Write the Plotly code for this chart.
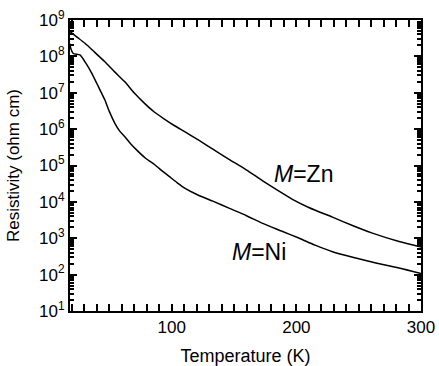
import plotly.graph_objects as go

# Data (Temperature K, log10 resistivity)
T_zn = [18.4, 24, 30.4, 38, 46.4, 54, 62.4, 70, 78.4, 86, 94.4, 102, 110.4, 122, 133, 146, 159.8, 173, 186.4, 198, 210.4, 229, 245, 261, 282.4, 300]
logR_zn = [8.68, 8.53, 8.36, 8.12, 7.85, 7.58, 7.30, 6.99, 6.70, 6.47, 6.27, 6.10, 5.93, 5.69, 5.45, 5.17, 4.88, 4.58, 4.29, 4.05, 3.84, 3.58, 3.35, 3.14, 2.91, 2.76]

T_ni = [18.4, 18.6, 21, 26.4, 31, 35.8, 41, 46.4, 50, 54.4, 58, 62.4, 67, 71.8, 79, 86.4, 93, 99.8, 105, 110.4, 119.8, 133, 146.4, 160, 173, 188, 202.4, 215, 229, 246, 263.8, 282.4, 300]
logR_ni = [8.35, 8.27, 8.08, 8.04, 7.82, 7.54, 7.18, 6.80, 6.48, 6.16, 5.96, 5.79, 5.60, 5.43, 5.20, 5.02, 4.83, 4.65, 4.51, 4.38, 4.21, 4.02, 3.82, 3.62, 3.41, 3.20, 3.00, 2.81, 2.63, 2.47, 2.32, 2.18, 2.03]

R_zn = [10 ** v for v in logR_zn]
R_ni = [10 ** v for v in logR_ni]

labels = ["<i>M</i>=Zn", "<i>M</i>=Ni"]
label_T = [206, 170]
label_logR = [4.77, 2.63]

y_major = [10 ** e for e in range(1, 10)]
y_major_text = ["10<sup>%d</sup>" % e for e in range(1, 10)]
y_minor = [m * 10 ** e for e in range(1, 9) for m in range(2, 10)]

FONT = "Liberation Sans, Arial, sans-serif"

fig = go.Figure()
fig.add_trace(go.Scatter(x=T_zn, y=R_zn, mode="lines", line=dict(color="black", width=1.5, shape="spline", smoothing=0.6), showlegend=False))
fig.add_trace(go.Scatter(x=T_ni, y=R_ni, mode="lines", line=dict(color="black", width=1.5, shape="spline", smoothing=0.6), showlegend=False))
# invisible trace to anchor the minor-tick overlay axis
fig.add_trace(go.Scatter(x=[T_zn[0]], y=[R_zn[0]], yaxis="y2", mode="markers", marker=dict(opacity=0), showlegend=False, hoverinfo="skip"))

for txt, tx, ty in zip(labels, label_T, label_logR):
    fig.add_annotation(x=tx, y=ty, xref="x", yref="y", text=txt, showarrow=False,
                       font=dict(family=FONT, size=23, color="black"))

fig.update_layout(
    width=439, height=366,
    margin=dict(l=70, r=18, t=20, b=55),
    paper_bgcolor="white", plot_bgcolor="white",
    font=dict(family=FONT, color="black"),
    xaxis=dict(
        range=[18.4, 300], tick0=0, dtick=100, automargin=False,
        ticks="inside", ticklen=7, tickwidth=2, tickcolor="black",
        minor=dict(dtick=10, ticks="inside", ticklen=4, tickwidth=1.5, tickcolor="black", showgrid=False),
        showline=True, linecolor="black", linewidth=2, mirror="allticks",
        showgrid=False, zeroline=False,
        tickfont=dict(size=17, family=FONT),
        title=dict(text="Temperature (K)", font=dict(size=18, family=FONT)),
    ),
    yaxis=dict(
        type="log", range=[1, 9], tickmode="array", tickvals=y_major, ticktext=y_major_text,
        automargin=False,
        ticks="inside", ticklen=7, tickwidth=2, tickcolor="black",
        showline=True, linecolor="black", linewidth=2, mirror="allticks",
        showgrid=False, zeroline=False,
        tickfont=dict(size=17, family=FONT),
        title=dict(text="Resistivity (ohm cm)", font=dict(size=17, family=FONT)),
    ),
    yaxis2=dict(
        type="log", range=[1, 9], overlaying="y", side="left", anchor="x", automargin=False,
        tickmode="array", tickvals=y_minor, showticklabels=False,
        ticks="inside", ticklen=4, tickwidth=1.5, tickcolor="black",
        showline=True, linecolor="black", linewidth=2, mirror="allticks",
        showgrid=False, zeroline=False,
    ),
)

fig.write_html("out.html")
